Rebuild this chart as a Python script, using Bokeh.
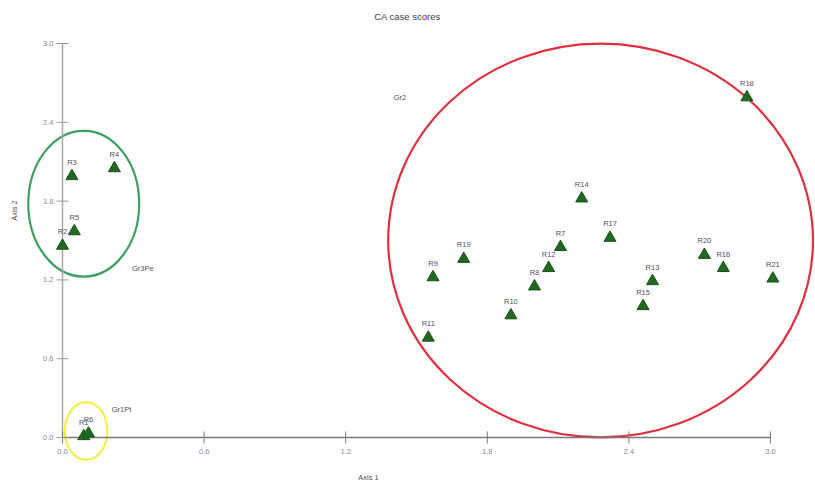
import math
from bokeh.plotting import figure
from bokeh.models import Range1d, Label, ColumnDataSource
from bokeh.core.properties import value
from bokeh.embed import file_html
from bokeh.resources import INLINE

# ---- data ----
names = ["R1", "R2", "R3", "R4", "R5", "R6", "R7", "R8", "R9", "R10", "R11",
         "R12", "R13", "R14", "R15", "R16", "R17", "R18", "R19", "R20", "R21"]
axis1 = [0.09, 0.00, 0.04, 0.22, 0.05, 0.11, 2.11, 2.00, 1.57, 1.90, 1.55,
         2.06, 2.50, 2.20, 2.46, 2.80, 2.32, 2.90, 1.70, 2.72, 3.01]
axis2 = [0.01, 1.46, 1.99, 2.05, 1.57, 0.03, 1.45, 1.15, 1.22, 0.93, 0.76,
         1.29, 1.19, 1.82, 1.00, 1.29, 1.52, 2.59, 1.36, 1.39, 1.21]

x_ticks = [0.0, 0.6, 1.2, 1.8, 2.4, 3.0]
y_ticks = [0.0, 0.6, 1.2, 1.8, 2.4, 3.0]
tick_labels = ["0.0", "0.6", "1.2", "1.8", "2.4", "3.0"]

group_names = ["Gr1Pt", "Gr2", "Gr3Pe"]
group_label_x = [0.25, 1.43, 0.34]
group_label_y = [0.21, 2.59, 1.29]
group_cx = [0.10, 2.28, 0.09]
group_cy = [0.05, 1.50, 1.78]
group_w = [0.18, 1.80, 0.47]
group_h = [0.44, 3.00, 1.11]
group_colors = ["#f2f04a", "#e0303f", "#3f9f5f"]

FONT = "Liberation Sans"

p = figure(width=815, height=484, output_backend="svg", toolbar_location=None,
           x_axis_type=None, y_axis_type=None, min_border=0,
           x_range=Range1d(-0.2627, 3.1907), y_range=Range1d(-0.3579, 3.3275))
p.outline_line_color = None
p.grid.visible = False
p.background_fill_color = "white"

# group ellipses
p.ellipse(x=group_cx, y=group_cy, width=group_w, height=group_h,
          fill_color=None, line_color=group_colors, line_width=2.2)

# axes lines
p.segment(x0=[0], y0=[0], x1=[x_ticks[-1]], y1=[0], line_color="#7a7a7a", line_width=1.5)
p.segment(x0=[0], y0=[0], x1=[0], y1=[y_ticks[-1]], line_color="#a8a8a8", line_width=1.5)

# ticks
p.scatter(x=x_ticks, y=[0] * len(x_ticks), marker="dash", size=12,
          angle=math.pi / 2, line_color="#7a7a7a", line_width=1)
p.scatter(x=[0] * len(y_ticks), y=y_ticks, marker="dash", size=12,
          line_color="#9a9a9a", line_width=1)

# tick labels
p.text(x=x_ticks, y=[0] * len(x_ticks), text=tick_labels, y_offset=14,
       text_align="center", text_baseline="middle", text_font=value(FONT),
       text_font_size="7.5px", text_color="#8088a8")
p.text(x=[0] * len(y_ticks), y=y_ticks, text=tick_labels, x_offset=-9,
       text_align="right", text_baseline="middle", text_font=value(FONT),
       text_font_size="7.5px", text_color="#8088a8")

# points
src = ColumnDataSource(dict(x=axis1, y=axis2, name=names))
p.scatter(x="x", y="y", source=src, marker="triangle", size=12,
          fill_color="#1f6a1f", line_color="#1a4d1a", line_width=1)
p.text(x="x", y="y", text="name", source=src, y_offset=-14,
       text_align="center", text_baseline="middle", text_font=value(FONT),
       text_font_size="7.5px", text_color="#505060")

# group labels
p.text(x=group_label_x, y=group_label_y, text=group_names,
       text_align="center", text_baseline="middle", text_font=value(FONT),
       text_font_size="7.5px", text_color="#505050")

# title and axis labels
p.add_layout(Label(x=407, y=468, x_units="screen", y_units="screen",
                   text="CA case scores", text_align="center", text_baseline="middle",
                   text_font=FONT, text_font_size="9.5px", text_color="#404040"))
p.add_layout(Label(x=368, y=7, x_units="screen", y_units="screen",
                   text="Axis 1", text_align="center", text_baseline="middle",
                   text_font=FONT, text_font_size="7.5px", text_color="#505050"))
p.add_layout(Label(x=14, y=274, x_units="screen", y_units="screen",
                   text="Axis 2", text_align="center", text_baseline="middle",
                   angle=math.pi / 2, text_font=FONT, text_font_size="7.5px",
                   text_color="#505050"))

open("out.html", "w").write(file_html(p, INLINE))
